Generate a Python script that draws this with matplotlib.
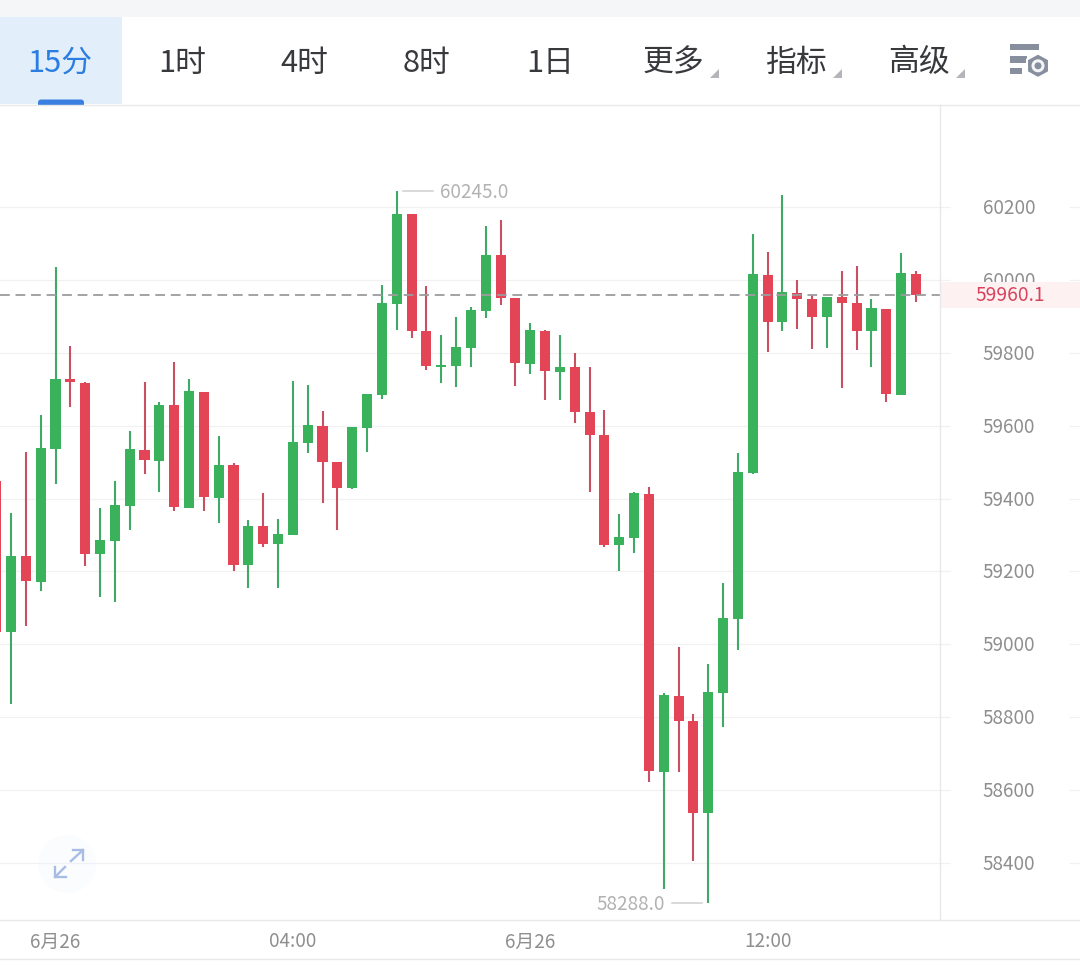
import matplotlib
matplotlib.use('Agg')
import matplotlib.pyplot as plt
from matplotlib.patches import Rectangle, Circle, Polygon, FancyBboxPatch
from matplotlib.transforms import Affine2D

plt.rcParams['font.family'] = ['Noto Sans CJK SC', 'DejaVu Sans']

# candles (green = up, red = down)
opens = [59448, 59034, 59243, 59171, 59536, 59729, 59718, 59248, 59284, 59380, 59534,
         59503, 59657, 59374, 59693, 59402, 59492, 59218, 59325, 59275, 59300, 59553,
         59600, 59501, 59430, 59595, 59686, 59936, 60182, 59861, 59763, 59765, 59815,
         59916, 60070, 59951, 59771, 59861, 59749, 59762, 59638, 59575, 59273, 59293,
         59413, 58650, 58858, 58789, 58537, 58866, 59070, 59470, 60015, 59886, 59965,
         59949, 59900, 59954, 59938, 59861, 59921, 59686, 60017]
closes = [59034, 59242, 59174, 59539, 59729, 59721, 59249, 59286, 59383, 59536, 59506,
          59657, 59377, 59696, 59405, 59492, 59218, 59325, 59275, 59303, 59556, 59602,
          59501, 59430, 59597, 59688, 59938, 60182, 59861, 59765, 59767, 59817, 59918,
          60070, 59952, 59774, 59863, 59752, 59762, 59639, 59576, 59273, 59295, 59416,
          58653, 58861, 58789, 58537, 58869, 59072, 59473, 60017, 59886, 59968, 59949,
          59900, 59954, 59938, 59861, 59924, 59688, 60020, 59960.1]
highs = [59460, 59361, 59528, 59630, 60036, 59819, 59721, 59374, 59448, 59586, 59720,
         59666, 59775, 59729, 59693, 59572, 59498, 59341, 59416, 59344, 59723, 59712,
         59641, 59501, 59597, 59688, 59987, 60245, 60182, 59984, 59850, 59899, 59927,
         60149, 60166, 59951, 59883, 59863, 59850, 59800, 59762, 59644, 59358, 59418,
         59432, 58866, 58992, 58808, 58946, 59168, 59525, 60127, 60078, 60234, 60001,
         59960, 59954, 60025, 60039, 59949, 59921, 60075, 60025]
lows = [59020, 58836, 59050, 59146, 59440, 59652, 59216, 59131, 59117, 59314, 59468,
        59419, 59366, 59374, 59366, 59333, 59201, 59155, 59267, 59155, 59300, 59525,
        59389, 59315, 59427, 59529, 59675, 59864, 59842, 59754, 59719, 59708, 59763,
        59897, 59933, 59710, 59743, 59672, 59672, 59609, 59419, 59268, 59202, 59252,
        58622, 58328, 58650, 58405, 58288, 58774, 58985, 59468, 59804, 59861, 59867,
        59812, 59815, 59705, 59809, 59763, 59666, 59686, 59941]

last_price = 59960.1
high_label = '60245.0'
low_label = '58288.0'
y_ticks = [58400, 58600, 58800, 59000, 59200, 59400, 59600, 59800, 60000, 60200]
x_tick_pos = [4, 20, 36, 52]
x_tick_labels = ['6月26', '04:00', '6月26', '12:00']
tabs = ['15分', '1时', '4时', '8时', '1日', '更多', '指标', '高级']
tab_x = [60, 182, 304, 427, 550, 673, 796, 919]

GREEN = '#39b25b'
RED = '#e44556'
GREEN_W = '#3fa967'
RED_W = '#c94f63'
GRID = '#f1f1f2'
LINE = '#e7e8ea'
GRAY = '#8e8e8e'

fig = plt.figure(figsize=(10.8, 9.7), dpi=100, facecolor='white')

# chart area
ax = fig.add_axes([0, 49 / 970, 940 / 1080, 814 / 970])
ax.set_xlim(0.259, 63.62)
ax.set_ylim(58242.5, 60478.8)
for s in ax.spines.values():
    s.set_visible(False)

idx = list(range(len(opens)))
for i in idx:
    up = closes[i] >= opens[i]
    ax.vlines(i, lows[i], highs[i], color=GREEN_W if up else RED_W, lw=1.5, zorder=3)
    ax.bar(i, abs(closes[i] - opens[i]), bottom=min(opens[i], closes[i]), width=0.68,
           color=GREEN if up else RED, linewidth=0, zorder=4)

ax.yaxis.tick_right()
ax.set_yticks(y_ticks)
ax.set_yticklabels([str(v) for v in y_ticks])
ax.tick_params(axis='y', length=7.2, width=0.9, color=GRID, pad=23.5, labelsize=13.6, labelcolor=GRAY)
ax.set_xticks(x_tick_pos)
ax.set_xticklabels(x_tick_labels)
ax.tick_params(axis='x', length=0, pad=7.5, labelsize=13.6, labelcolor=GRAY)
ax.grid(axis='y', color=GRID, lw=0.9, zorder=0)
ax.set_axisbelow(True)
for lab in ax.get_yticklabels():
    lab.set_transform(lab.get_transform() + Affine2D().translate(0, 2))

# gridline stubs right of the price labels
for v in y_ticks:
    ax.plot([1070 / 940, 1080 / 940], [v, v], color=GRID, lw=0.9, clip_on=False,
            transform=ax.get_yaxis_transform())

# last price line and its label
ax.axhline(last_price, color='#9c9c9f', lw=1.3, dashes=(5.4, 3.2), zorder=6)
ax.add_patch(Rectangle((1, last_price - 36), 140 / 940, 72, transform=ax.get_yaxis_transform(),
                       facecolor='#fdf1f1', edgecolor='none', clip_on=False, zorder=7))
ax.text(1010 / 940, last_price, str(last_price), transform=ax.get_yaxis_transform(), ha='center',
        va='center', fontsize=13.8, color='#d9425c', zorder=8, clip_on=False)

# high / low markers
hi_i = highs.index(max(highs))
lo_i = lows.index(min(lows))
ax.annotate(high_label, xy=(hi_i, max(highs)), xytext=(43, 0), textcoords='offset pixels',
            va='center', ha='left', fontsize=13.6, color='#b2b2b4', zorder=8)
ax.plot([hi_i + 0.42, hi_i + 2.45], [max(highs), max(highs)], color='#cfcfd1', lw=1.1, zorder=5)
ax.annotate(low_label, xy=(lo_i, min(lows)), xytext=(-43, 0), textcoords='offset pixels',
            va='center', ha='right', fontsize=13.6, color='#b2b2b4', zorder=8)
ax.plot([lo_i - 2.45, lo_i - 0.42], [min(lows), min(lows)], color='#cfcfd1', lw=1.1, zorder=5)

# page chrome, drawn in pixels
ui = fig.add_axes([0, 0, 1, 1], zorder=10)
ui.set_xlim(0, 1080)
ui.set_ylim(970, 0)
ui.axis('off')
ui.add_patch(Rectangle((0, 0), 1080, 18, facecolor='#f5f6f8', edgecolor='none'))
ui.add_patch(Rectangle((0, 18), 122, 87, facecolor='#e3eefb', edgecolor='none'))
ui.add_patch(FancyBboxPatch((38, 100.5), 46, 8, boxstyle='round,pad=0,rounding_size=3', mutation_aspect=1,
                            facecolor='#3b80e0', edgecolor='none'))
ui.add_patch(Rectangle((0, 105.5), 1080, 6, facecolor='white', edgecolor='none'))
ui.plot([0, 1080], [105.5, 105.5], color=LINE, lw=1)
ui.plot([940, 940], [105.5, 920], color=LINE, lw=1)
ui.plot([0, 1080], [920.5, 920.5], color=LINE, lw=1)
ui.plot([0, 1080], [959.5, 959.5], color=LINE, lw=1)

for k, t in enumerate(tabs):
    ui.text(tab_x[k], 63, t, ha='center', va='center', fontsize=22.2,
            color='#2a7de1' if k == 0 else '#37393c')

for cx in [719, 842, 965]:
    ui.add_patch(Polygon([[cx, 70], [cx, 79], [cx - 9, 79]], closed=True, facecolor='#b3b5b9', edgecolor='none'))

# settings icon
ICON = '#878f9f'
ui.add_patch(Rectangle((1010, 45), 29, 6, facecolor=ICON, edgecolor='none'))
ui.add_patch(Rectangle((1010, 57), 17, 6.5, facecolor=ICON, edgecolor='none'))
ui.add_patch(Rectangle((1010, 68.5), 12, 6, facecolor=ICON, edgecolor='none'))
ui.add_patch(Polygon([[1038, 54.5], [1049, 60.5], [1049, 73], [1038, 79], [1027, 73], [1027, 60.5]],
                     closed=True, facecolor=ICON, edgecolor='white', lw=1.5))
ui.add_patch(Circle((1038, 66.8), 6.5, facecolor='#f4f5f7', edgecolor='none'))
ui.add_patch(Circle((1038, 66.8), 3.5, facecolor=ICON, edgecolor='none'))

# expand icon
ui.add_patch(Circle((67, 865), 29, facecolor='#eaf3fd', edgecolor='none', alpha=0.22))
ARROW = '#a9bce6'
ui.plot([71, 83], [862, 851], color=ARROW, lw=1.7)
ui.plot([73, 83, 83], [851, 851, 861], color=ARROW, lw=1.7)
ui.plot([65, 55], [868, 878], color=ARROW, lw=1.7)
ui.plot([55, 55, 66], [868, 878, 878], color=ARROW, lw=1.7)

fig.savefig('out.png', dpi=100)
